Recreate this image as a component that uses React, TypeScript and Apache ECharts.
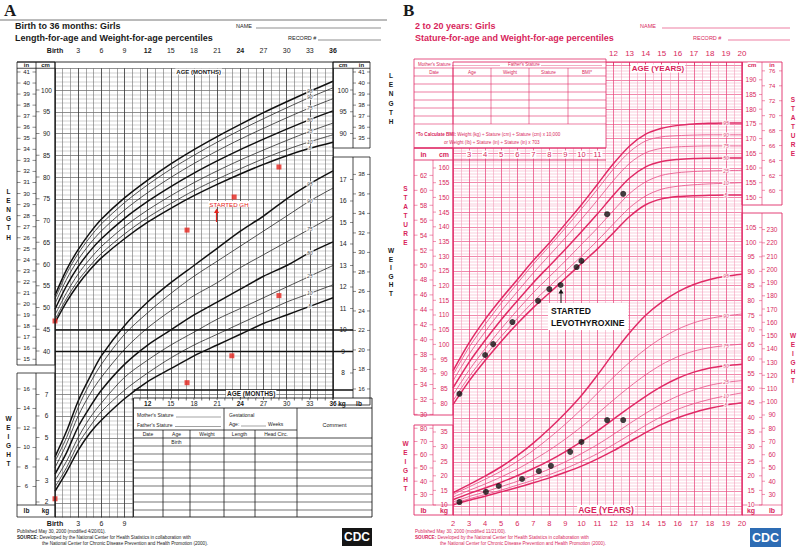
import React, { useEffect, useRef } from "react";
import * as echarts from "echarts";

const SANS = "'Liberation Sans', Arial, Helvetica, sans-serif";
const SERIF = "'Liberation Serif', 'Times New Roman', serif";
const INK = "#1a1a1a";
const RED = "#e5231b";
const PINK = "#e02a66";
const PINK_THIN = "#e8548a";
const PINK_TXT = "#d81f5c";
const PINK_MAJ = "#e9487f";
const PINK_MIN = "#f396b6";

// ---------- Panel A : birth to 36 months (girls) ----------
const monthsA = [0, 1.5, 3, 4.5, 6, 9, 12, 15, 18, 21, 24, 27, 30, 33, 36];
const lenA5 = [46.5, 51.3, 55.3, 58.6, 61.4, 65.8, 69.6, 72.8, 75.7, 78.3, 80.7, 82.9, 84.9, 86.6, 88.0];
const lenA10 = [47.2, 52.1, 56.2, 59.5, 62.4, 66.9, 70.7, 73.9, 76.9, 79.5, 81.9, 84.2, 86.3, 88.1, 89.7];
const lenA25 = [48.3, 53.4, 57.7, 61.1, 64.0, 68.6, 72.4, 75.7, 78.7, 81.4, 83.9, 86.2, 88.4, 90.5, 92.4];
const lenA50 = [49.6, 55.0, 59.4, 62.9, 65.8, 70.5, 74.4, 77.8, 80.9, 83.7, 86.3, 88.7, 91.0, 93.2, 95.2];
const lenA75 = [50.9, 56.5, 61.0, 64.6, 67.6, 72.4, 76.4, 79.9, 83.1, 86.0, 88.7, 91.2, 93.6, 95.9, 98.0];
const lenA90 = [52.0, 57.8, 62.4, 66.1, 69.2, 74.1, 78.2, 81.8, 85.0, 88.0, 90.8, 93.4, 95.9, 98.3, 100.5];
const lenA95 = [52.8, 58.7, 63.3, 67.1, 70.3, 75.2, 79.3, 83.0, 86.3, 89.3, 92.1, 94.8, 97.3, 99.7, 102.0];

const wtA5 = [2.5, 3.4, 4.4, 5.2, 5.8, 6.8, 7.6, 8.2, 8.8, 9.3, 9.8, 10.3, 10.7, 11.1, 11.5];
const wtA10 = [2.7, 3.6, 4.7, 5.5, 6.2, 7.2, 8.0, 8.7, 9.3, 9.8, 10.3, 10.8, 11.3, 11.7, 12.1];
const wtA25 = [3.0, 3.9, 5.0, 5.9, 6.6, 7.8, 8.6, 9.3, 9.9, 10.5, 11.0, 11.5, 12.0, 12.5, 13.0];
const wtA50 = [3.3, 4.3, 5.5, 6.4, 7.2, 8.4, 9.3, 10.0, 10.7, 11.3, 11.9, 12.5, 13.0, 13.6, 14.1];
const wtA75 = [3.6, 4.7, 6.0, 7.0, 7.8, 9.1, 10.1, 10.9, 11.6, 12.2, 12.9, 13.5, 14.1, 14.7, 15.3];
const wtA90 = [3.9, 5.0, 6.4, 7.5, 8.4, 9.8, 10.8, 11.7, 12.5, 13.2, 13.9, 14.6, 15.3, 16.0, 16.6];
const wtA95 = [4.1, 5.3, 6.7, 7.8, 8.8, 10.2, 11.3, 12.2, 13.0, 13.8, 14.6, 15.3, 16.1, 16.8, 17.4];

const pctNames = ["5", "10", "25", "50", "75", "90", "95"];

// patient A (red marks)
const ptLenAgeA = [0, 17.1, 23.2, 29.0];
const ptLenA = [46.9, 67.8, 75.4, 82.3];
const ptWtAgeA = [0, 17.1, 22.9, 29.0];
const ptWtA = [2.15, 7.55, 8.8, 11.6];

// tick labels A
const monthTicksTopA = [0, 3, 6, 9, 12, 15, 18, 21, 24, 27, 30, 33, 36];
const monthTicksBottomA = [0, 3, 6, 9];
const monthTicksRowA = [12, 15, 18, 21, 24, 27, 30, 33, 36];
const inLeftA = [15, 16, 17, 18, 19, 20, 21, 22, 23, 24, 25, 26, 27, 28, 29, 30, 31, 32, 33, 34, 35, 36, 37, 38, 39, 40, 41];
const cmLeftA = [40, 45, 50, 55, 60, 65, 70, 75, 80, 85, 90, 95, 100];
const kgLeftA = [2, 3, 4, 5, 6, 7];
const lbLeftA = [6, 8, 10, 12, 14, 16];
const cmRightA = [90, 95, 100];
const inRightA = [35, 36, 37, 38, 39, 40, 41];
const kgRightA = [8, 9, 10, 11, 12, 13, 14, 15, 16, 17];
const lbRightA = [16, 18, 20, 22, 24, 26, 28, 30, 32, 34, 36, 38];
const heavyKgA = [9, 10];

// ---------- Panel B : 2 to 20 years (girls) ----------
const agesB = [2, 3, 4, 5, 6, 7, 8, 9, 10, 11, 12, 13, 14, 15, 16, 17, 18, 19, 20];
const statB5 = [79.5, 87.5, 94.5, 101.0, 107.0, 112.5, 117.5, 122.5, 127.5, 132.5, 138.0, 143.5, 147.5, 149.5, 150.3, 150.6, 150.7, 150.8, 150.8];
const statB10 = [80.8, 89.0, 96.0, 102.7, 108.8, 114.5, 119.7, 124.8, 130.0, 135.3, 141.0, 146.5, 150.5, 152.8, 153.8, 154.3, 154.6, 154.8, 155.0];
const statB25 = [82.8, 91.2, 98.5, 105.3, 111.6, 117.6, 123.0, 128.4, 134.0, 139.6, 145.6, 151.3, 155.3, 157.5, 158.4, 158.8, 159.0, 159.1, 159.2];
const statB50 = [85.2, 93.9, 101.4, 108.4, 114.8, 121.0, 126.7, 132.4, 138.3, 144.4, 150.8, 156.6, 160.4, 162.2, 162.9, 163.2, 163.3, 163.4, 163.4];
const statB75 = [87.6, 96.6, 104.3, 111.4, 117.9, 124.3, 130.3, 136.3, 142.6, 149.1, 155.8, 161.6, 165.2, 166.7, 167.2, 167.4, 167.5, 167.5, 167.5];
const statB90 = [89.7, 99.0, 106.8, 114.0, 120.7, 127.3, 133.4, 139.6, 146.1, 152.8, 159.7, 165.5, 169.2, 170.6, 171.0, 171.2, 171.3, 171.3, 171.3];
const statB95 = [91.0, 100.5, 108.5, 115.5, 122.0, 128.5, 134.5, 141.0, 147.5, 154.5, 161.5, 167.5, 171.5, 173.5, 174.5, 175.0, 175.2, 175.3, 175.3];

const wtB5 = [10.0, 11.6, 13.0, 14.5, 16.0, 17.6, 19.3, 21.2, 23.3, 25.8, 28.6, 31.7, 34.8, 37.6, 39.9, 41.7, 43.1, 44.2, 45.0];
const wtB10 = [10.4, 12.1, 13.6, 15.1, 16.8, 18.5, 20.4, 22.5, 24.9, 27.6, 30.7, 34.0, 37.3, 40.3, 42.8, 44.7, 46.2, 47.4, 48.4];
const wtB25 = [11.0, 12.9, 14.5, 16.3, 18.1, 20.1, 22.3, 24.8, 27.6, 30.7, 34.2, 37.9, 41.4, 44.6, 47.3, 49.4, 51.0, 52.0, 52.6];
const wtB50 = [11.8, 13.9, 15.8, 17.8, 20.0, 22.5, 25.2, 28.3, 31.7, 35.4, 39.4, 43.4, 47.2, 50.6, 53.4, 55.5, 56.9, 57.7, 58.2];
const wtB75 = [12.7, 15.0, 17.2, 19.6, 22.3, 25.4, 28.8, 32.6, 36.8, 41.3, 46.0, 50.5, 54.6, 58.1, 60.8, 62.7, 63.9, 64.6, 65.1];
const wtB90 = [13.6, 16.2, 18.8, 21.6, 24.9, 28.7, 33.0, 37.7, 42.8, 48.3, 53.8, 58.9, 63.4, 67.2, 70.2, 72.4, 73.9, 74.8, 75.4];
const wtB95 = [14.2, 17.0, 19.9, 23.1, 26.9, 31.2, 36.1, 41.5, 47.5, 54.5, 62.0, 69.0, 75.0, 79.5, 83.0, 85.5, 87.2, 88.3, 89.0];

// patient B (black dots)
const ptStatAgeB = [2.4, 4.0, 4.5, 5.7, 7.3, 8.0, 8.7, 9.7, 10.0, 11.6, 12.6];
const ptStatB = [83.2, 96.4, 100.1, 107.6, 114.8, 118.8, 120.2, 126.3, 128.4, 144.3, 151.2];
const ptWtAgeB = [2.4, 4.05, 4.85, 6.3, 7.35, 8.1, 9.3, 10.0, 11.6, 12.6];
const ptWtB = [11.0, 14.5, 16.5, 18.9, 21.6, 23.4, 28.2, 31.6, 39.1, 39.1];

// tick labels B
const yearsTopB = [12, 13, 14, 15, 16, 17, 18, 19, 20];
const yearsRowB = [3, 4, 5, 6, 7, 8, 9, 10, 11];
const yearsBottomB = [2, 3, 4, 5, 6, 7, 8, 9, 10, 11, 12, 13, 14, 15, 16, 17, 18, 19, 20];
const cmLeftB = [80, 85, 90, 95, 100, 105, 110, 115, 120, 125, 130, 135, 140, 145, 150, 155, 160];
const inLeftB = [30, 32, 34, 36, 38, 40, 42, 44, 46, 48, 50, 52, 54, 56, 58, 60, 62];
const kgLeftB = [10, 15, 20, 25, 30, 35];
const lbLeftB = [30, 40, 50, 60, 70, 80];
const cmRightB = [150, 155, 160, 165, 170, 175, 180, 185, 190];
const inRightB = [60, 62, 64, 66, 68, 70, 72, 74, 76];
const kgRightB = [10, 15, 20, 25, 30, 35, 40, 45, 50, 55, 60, 65, 70, 75, 80, 85, 90, 95, 100, 105];
const lbRightB = [30, 40, 50, 60, 70, 80, 90, 100, 110, 120, 130, 140, 150, 160, 170, 180, 190, 200, 210, 220, 230];

const IN = 2.54;
const LB = 0.45359;

const lenASets = [lenA5, lenA10, lenA25, lenA50, lenA75, lenA90, lenA95];
const wtASets = [wtA5, wtA10, wtA25, wtA50, wtA75, wtA90, wtA95];
const statBSets = [statB5, statB10, statB25, statB50, statB75, statB90, statB95];
const wtBSets = [wtB5, wtB10, wtB25, wtB50, wtB75, wtB90, wtB95];
const isThick = (i: number) => i === 0 || i === 3 || i === 6;

function curve(xs: number[], ys: number[], xi: number, yi: number, color: string, width: number) {
  return {
    type: "line", xAxisIndex: xi, yAxisIndex: yi, silent: true,
    data: xs.map((x, j) => [x, ys[j]]),
    showSymbol: false, symbol: "none", smooth: 0.3,
    lineStyle: { color, width }, z: 3,
  };
}
function curveLabels(xs: number[], sets: number[][], idx: number, xi: number, yi: number, color: string) {
  return {
    type: "scatter", xAxisIndex: xi, yAxisIndex: yi, silent: true,
    symbolSize: 1, itemStyle: { color: "rgba(0,0,0,0)" },
    data: sets.map((s, i) => ({ name: pctNames[i], value: [xs[idx], s[idx]] })),
    label: {
      show: true, position: "inside", formatter: "{b}", fontSize: 5, fontStyle: "italic",
      fontFamily: SANS, color, backgroundColor: "#fff", padding: [0, 1],
    },
    z: 4,
  };
}

function buildOption() {
  const series: any[] = [];
  lenASets.forEach((s, i) => series.push(curve(monthsA, s, 0, 0, isThick(i) ? "#111" : "#333", isThick(i) ? 1.5 : 0.85)));
  wtASets.forEach((s, i) => series.push(curve(monthsA, s, 0, 1, isThick(i) ? "#111" : "#333", isThick(i) ? 1.5 : 0.85)));
  statBSets.forEach((s, i) => series.push(curve(agesB, s, 1, 2, isThick(i) ? PINK : PINK_THIN, isThick(i) ? 1.5 : 0.85)));
  wtBSets.forEach((s, i) => series.push(curve(agesB, s, 1, 3, isThick(i) ? PINK : PINK_THIN, isThick(i) ? 1.5 : 0.85)));
  series.push(curveLabels(monthsA, lenASets, 13, 0, 0, "#222"));
  series.push(curveLabels(monthsA, wtASets, 13, 0, 1, "#222"));
  series.push(curveLabels(agesB, statBSets, 17, 1, 2, PINK_TXT));
  series.push(curveLabels(agesB, wtBSets, 17, 1, 3, PINK_TXT));
  series.push({
    type: "scatter", xAxisIndex: 0, yAxisIndex: 0, silent: true, symbol: "rect", symbolSize: 5,
    itemStyle: { color: RED }, data: ptLenAgeA.map((a, i) => [a, ptLenA[i]]), z: 6,
  });
  series.push({
    type: "scatter", xAxisIndex: 0, yAxisIndex: 1, silent: true, symbol: "rect", symbolSize: 5,
    itemStyle: { color: RED }, data: ptWtAgeA.map((a, i) => [a, ptWtA[i]]), z: 6,
  });
  series.push({
    type: "scatter", xAxisIndex: 1, yAxisIndex: 2, silent: true, symbol: "circle", symbolSize: 6,
    itemStyle: { color: "#111" }, data: ptStatAgeB.map((a, i) => [a, ptStatB[i]]), z: 6,
  });
  series.push({
    type: "scatter", xAxisIndex: 1, yAxisIndex: 3, silent: true, symbol: "circle", symbolSize: 6,
    itemStyle: { color: "#111" }, data: ptWtAgeB.map((a, i) => [a, ptWtB[i]]), z: 6,
  });

  return {
    animation: false,
    backgroundColor: "#fff",
    grid: [
      { left: 55, top: 68.25, width: 278, height: 456.75 },
      { left: 453, top: 62, width: 289, height: 458.8 },
    ],
    xAxis: [
      {
        gridIndex: 0, type: "value", min: 0, max: 36, interval: 3, position: "top",
        axisLine: { show: true, lineStyle: { color: INK, width: 0.8 } },
        axisTick: { show: true, length: 6, lineStyle: { color: INK, width: 0.7 } },
        minorTick: { show: true, splitNumber: 3, length: 3, lineStyle: { color: INK, width: 0.6 } },
        axisLabel: { show: false },
        splitLine: { show: true, lineStyle: { color: "#3c3c3c", width: 0.85 } },
        minorSplitLine: { show: true, lineStyle: { color: "#6e6e6e", width: 0.6 } },
      },
      {
        gridIndex: 1, type: "value", min: 2, max: 20, interval: 1, position: "top",
        axisLine: { show: false },
        axisTick: { show: true, inside: true, length: 4, lineStyle: { color: PINK, width: 0.7 } },
        minorTick: { show: false, splitNumber: 2 },
        axisLabel: { show: false },
        splitLine: { show: true, lineStyle: { color: PINK_MAJ, width: 0.75 } },
        minorSplitLine: { show: true, lineStyle: { color: PINK_MIN, width: 0.55 } },
      },
    ],
    yAxis: [
      {
        gridIndex: 0, type: "value", min: 0, max: 105, interval: 5,
        axisLine: { show: false }, axisTick: { show: false }, axisLabel: { show: false },
        minorTick: { show: false, splitNumber: 5 },
        splitLine: { show: true, lineStyle: { color: "#555", width: 0.65 } },
        minorSplitLine: { show: true, lineStyle: { color: "#989898", width: 0.45 } },
      },
      { gridIndex: 0, type: "value", min: 0.9302, max: 22.174, show: false },
      {
        gridIndex: 1, type: "value", min: 40, max: 196.054, interval: 5,
        axisLine: { show: false }, axisTick: { show: false }, axisLabel: { show: false },
        minorTick: { show: false, splitNumber: 5 },
        splitLine: { show: true, lineStyle: { color: PINK_MAJ, width: 0.65 } },
        minorSplitLine: { show: true, lineStyle: { color: PINK_MIN, width: 0.45 } },
      },
      { gridIndex: 1, type: "value", min: 4.589, max: 161.712, show: false },
    ],
    series,
  };
}

const T = (x: number, y: number, text: string, o: any = {}) => ({
  type: "text", z: o.z ?? 60, x, y,
  style: {
    text, fill: o.fill ?? INK, fontSize: o.size ?? 6,
    fontWeight: o.bold ? "bold" : "normal", fontStyle: o.italic ? "italic" : "normal",
    fontFamily: o.family ?? SANS,
    align: o.align ?? "left", verticalAlign: o.va ?? "middle",
    textAlign: o.align ?? "left", textVerticalAlign: o.va ?? "middle",
    lineHeight: o.lh, backgroundColor: o.bg, padding: o.pad, rich: o.rich,
  },
});
const R = (x: number, y: number, w: number, h: number, o: any = {}) => ({
  type: "rect", z: o.z ?? 55, shape: { x, y, width: w, height: h },
  style: { fill: o.fill ?? "none", stroke: o.stroke ?? "none", lineWidth: o.lw ?? 0.8 },
});
const L = (x1: number, y1: number, x2: number, y2: number, stroke = INK, lw = 0.8, z = 58) => ({
  type: "line", z, shape: { x1, y1, x2, y2 }, style: { stroke, lineWidth: lw },
});
const arrowUp = (x: number, yTip: number, yTail: number, color: string, lw: number) => [
  L(x, yTip + 3, x, yTail, color, lw, 62),
  { type: "polygon", z: 62, shape: { points: [[x, yTip], [x - 2.5, yTip + 4.5], [x + 2.5, yTip + 4.5]] }, style: { fill: color } },
];

function buildGraphics(chart: any) {
  const g: any[] = [];
  const xA = (v: number) => chart.convertToPixel({ xAxisIndex: 0 }, v) as number;
  const yLen = (v: number) => chart.convertToPixel({ yAxisIndex: 0 }, v) as number;
  const yWtA = (v: number) => chart.convertToPixel({ yAxisIndex: 1 }, v) as number;
  const xB = (v: number) => chart.convertToPixel({ xAxisIndex: 1 }, v) as number;
  const yStat = (v: number) => chart.convertToPixel({ yAxisIndex: 2 }, v) as number;
  const yWtB = (v: number) => chart.convertToPixel({ yAxisIndex: 3 }, v) as number;

  // ======================= PANEL A =======================
  g.push(R(133.5, 398, 239, 121, { fill: "#fff", z: 40 }));
  g.push(R(54, 517.5, 282, 10, { fill: "#fff", z: 40 }));

  g.push(T(4, 10, "A", { size: 17, bold: true, family: SERIF }));
  g.push(L(0, 20, 387, 20, "#777", 1));
  g.push(T(15, 26, "Birth to 36 months: Girls", { size: 9, bold: true }));
  g.push(T(15, 38, "Length-for-age and Weight-for-age percentiles", { size: 9, bold: true }));
  g.push(T(236, 26, "NAME", { size: 5.5 }));
  g.push(L(256, 28, 381, 28, "#444", 0.6));
  g.push(T(288, 38, "RECORD #", { size: 5.5 }));
  g.push(L(318, 40, 381, 40, "#444", 0.6));

  monthTicksTopA.forEach((m) =>
    g.push(T(xA(m), 50, m === 0 ? "Birth" : String(m), { size: 7, bold: m % 12 === 0, align: "center" }))
  );
  monthTicksBottomA.forEach((m) =>
    g.push(T(xA(m), 523, m === 0 ? "Birth" : String(m), { size: 7, bold: m % 12 === 0, align: "center" }))
  );

  // heavier horizontal rules in the lower chart
  heavyKgA.forEach((v) => g.push(L(55, yWtA(v), 353, yWtA(v), "#111", 1.3, 30)));
  g.push(L(133.5, 390, 353, 390, "#111", 1.3, 30));

  // frames
  g.push(L(17, 62, 370, 62, INK, 0.9));
  g.push(R(17, 62, 38, 303, { stroke: INK }));
  g.push(L(36, 62, 36, 365));
  g.push(L(17, 68.25, 55, 68.25));
  g.push(R(17, 373, 38, 144, { stroke: INK }));
  g.push(L(36, 373, 36, 505));
  g.push(L(17, 505, 55, 505));
  g.push(R(333, 62, 37, 86, { stroke: INK }));
  g.push(L(353, 68.25, 353, 148));
  g.push(L(333, 68.25, 370, 68.25));
  g.push(R(333, 157, 37, 248, { stroke: INK }));
  g.push(L(353, 157, 353, 398));
  g.push(L(55, 62, 55, 517, INK, 0.9));
  g.push(L(333, 62, 333, 398, INK, 0.9));
  g.push(L(55, 517, 133.5, 517, INK, 0.9));

  g.push(T(26.5, 65.2, "in", { size: 6, bold: true, align: "center" }));
  g.push(T(45.5, 65.2, "cm", { size: 6, bold: true, align: "center" }));
  g.push(T(343, 65.2, "cm", { size: 6, bold: true, align: "center" }));
  g.push(T(361.5, 65.2, "in", { size: 6, bold: true, align: "center" }));
  g.push(T(xA(18.6), 71.5, "AGE (MONTHS)", { size: 6, bold: true, align: "center", bg: "#fff", pad: [0, 1] }));

  inLeftA.forEach((v) => {
    const y = yLen(v * IN);
    g.push(T(26.5, y, String(v), { size: 6, align: "center" }));
    g.push(L(17, y, 20.5, y, INK, 0.5));
    g.push(L(32.5, y, 36, y, INK, 0.5));
  });
  cmLeftA.forEach((v) => {
    const y = yLen(v);
    g.push(T(46.5, y, String(v), { size: 6.5, align: "center" }));
    g.push(L(36, y, 39.5, y, INK, 0.5));
  });
  kgLeftA.forEach((v) => {
    const y = yWtA(v);
    g.push(T(46.5, y, String(v), { size: 6.5, align: "center" }));
    g.push(L(36, y, 39.5, y, INK, 0.5));
  });
  lbLeftA.forEach((v) => {
    const y = yWtA(v * LB);
    g.push(T(26.5, y, String(v), { size: 6, align: "center" }));
    g.push(L(17, y, 20.5, y, INK, 0.5));
    g.push(L(32.5, y, 36, y, INK, 0.5));
  });
  g.push(T(26.5, 510.5, "lb", { size: 6.5, bold: true, align: "center" }));
  g.push(T(45.5, 510.5, "kg", { size: 6.5, bold: true, align: "center" }));

  cmRightA.forEach((v) => {
    const y = yLen(v);
    g.push(T(343, y, String(v), { size: 6.5, align: "center" }));
    g.push(L(350, y, 353, y, INK, 0.5));
  });
  inRightA.forEach((v) => {
    const y = yLen(v * IN);
    g.push(T(361.5, y, String(v), { size: 6, align: "center" }));
    g.push(L(353, y, 356, y, INK, 0.5));
    g.push(L(367, y, 370, y, INK, 0.5));
  });
  kgRightA.forEach((v) => {
    const y = yWtA(v);
    g.push(T(343, y, String(v), { size: 6.5, align: "center" }));
    g.push(L(350, y, 353, y, INK, 0.5));
  });
  lbRightA.forEach((v) => {
    const y = yWtA(v * LB);
    g.push(T(361.5, y, String(v), { size: 6, align: "center" }));
    g.push(L(353, y, 356, y, INK, 0.5));
    g.push(L(367, y, 370, y, INK, 0.5));
  });

  // age row under grid + table
  g.push(T(xA(25.4), 393.5, "AGE (MONTHS)", { size: 6.5, bold: true, align: "center", bg: "#fff", pad: [0, 1] }));
  g.push(L(133.5, 398, 372, 398, INK, 0.9));
  g.push(L(133.5, 408, 372, 408, INK, 0.9));
  g.push(L(133.5, 398, 133.5, 517, INK, 0.9));
  g.push(L(372, 398, 372, 517, INK, 0.9));
  g.push(L(133.5, 517, 372, 517, INK, 0.9));
  for (let m = 10; m <= 36; m++) {
    g.push(L(xA(m), 398, xA(m), m % 3 === 0 ? 402 : 400.5, INK, 0.6));
  }
  monthTicksRowA.forEach((m) =>
    g.push(T(xA(m), 403.5, String(m), { size: 6.5, bold: m % 12 === 0, align: "center", bg: "#fff", pad: [0, 1] }))
  );
  g.push(T(342, 403, "kg", { size: 6.5, bold: true, align: "center" }));
  g.push(T(359, 403, "lb", { size: 6.5, bold: true, align: "center" }));

  g.push(L(224, 408, 224, 517));
  g.push(L(297, 408, 297, 517));
  g.push(T(137, 415, "Mother's Stature", { size: 5 }));
  g.push(L(176, 417, 221, 417, "#444", 0.5));
  g.push(T(137, 424.5, "Father's Stature", { size: 5 }));
  g.push(L(175, 426.5, 221, 426.5, "#444", 0.5));
  g.push(T(229, 414.5, "Gestational", { size: 5 }));
  g.push(T(229, 424, "Age:", { size: 5 }));
  g.push(L(241, 426, 266, 426, "#444", 0.5));
  g.push(T(268, 424, "Weeks", { size: 5 }));
  g.push(T(334.5, 424.5, "Comment", { size: 5.5, align: "center" }));
  g.push(L(133.5, 430, 297, 430));
  g.push(L(133.5, 438, 372, 438));
  g.push(L(163, 430, 163, 517));
  g.push(L(190, 430, 190, 517));
  g.push(L(255, 430, 255, 517));
  g.push(T(148, 434.2, "Date", { size: 5, align: "center" }));
  g.push(T(176.5, 434.2, "Age", { size: 5, align: "center" }));
  g.push(T(207, 434.2, "Weight", { size: 5, align: "center" }));
  g.push(T(239.5, 434.2, "Length", { size: 5, align: "center" }));
  g.push(T(276, 434.2, "Head Circ.", { size: 5, align: "center" }));
  g.push(T(176.5, 442.3, "Birth", { size: 5, align: "center" }));
  [446, 454, 462, 470, 478, 486, 494, 502, 510].forEach((y) => g.push(L(133.5, y, 372, y, INK, 0.6)));

  // annotations A
  g.push(T(229, 204, "STARTED GH", { size: 6.2, fill: RED, align: "center", bg: "#fff", pad: [0, 1] }));
  arrowUp(216.5, 208.5, 222, RED, 1.2).forEach((e) => g.push(e));

  // vertical letters A
  g.push(T(8.5, 214, "L\nE\nN\nG\nT\nH", { size: 6.5, bold: true, align: "center", lh: 9.2 }));
  g.push(T(391, 98.5, "L\nE\nN\nG\nT\nH", { size: 6.5, bold: true, align: "center", lh: 9.2 }));
  g.push(T(8.5, 441, "W\nE\nI\nG\nH\nT", { size: 6.5, bold: true, align: "center", lh: 9 }));
  g.push(T(391, 272, "W\nE\nI\nG\nH\nT", { size: 6.5, bold: true, align: "center", lh: 8.5 }));

  // footer A
  g.push(T(17, 531.5, "Published May 30, 2000 (modified 4/20/01).", { size: 4.6 }));
  g.push(T(17, 537.5, "{b|SOURCE:} Developed by the National Center for Health Statistics in collaboration with", { size: 4.6, rich: { b: { fontWeight: "bold", fontSize: 4.6, fontFamily: SANS } } }));
  g.push(T(42, 543.5, "the National Center for Chronic Disease Prevention and Health Promotion (2000).", { size: 4.6 }));
  g.push(R(342, 528, 30, 18, { fill: "#151515", z: 60 }));
  g.push(T(357, 536.5, "CDC", { size: 12, bold: true, fill: "#fff", align: "center", z: 61 }));

  // ======================= PANEL B =======================
  g.push(R(414, 59, 192, 89, { fill: "#fff", stroke: PINK, z: 40 }));
  g.push(R(452, 515.5, 292, 7, { fill: "#fff", z: 40 }));

  g.push(T(403, 10, "B", { size: 17, bold: true, family: SERIF }));
  g.push(T(415, 26, "2 to 20 years: Girls", { size: 9, bold: true, fill: PINK_TXT }));
  g.push(T(415, 38, "Stature-for-age and Weight-for-age percentiles", { size: 9, bold: true, fill: PINK_TXT }));
  g.push(T(640, 26, "NAME", { size: 5.5, fill: PINK_TXT }));
  g.push(L(662, 28, 790, 28, PINK, 0.6));
  g.push(T(693, 38, "RECORD #", { size: 5.5, fill: PINK_TXT }));
  g.push(L(728, 40, 790, 40, PINK, 0.6));

  yearsTopB.forEach((v) => g.push(T(xB(v), 53.5, String(v), { size: 8, fill: PINK_TXT, align: "center" })));
  yearsBottomB.forEach((v) => g.push(T(xB(v), 523.5, String(v), { size: 7.5, fill: PINK_TXT, align: "center" })));

  // BMI table
  g.push(T(418, 64, "Mother's Stature", { size: 4.5, fill: PINK_TXT, z: 61 }));
  g.push(L(452, 65.5, 500, 65.5, PINK, 0.4, 61));
  g.push(T(508, 64, "Father's Stature", { size: 4.5, fill: PINK_TXT, z: 61 }));
  g.push(L(541, 65.5, 602, 65.5, PINK, 0.4, 61));
  [68, 76, 84, 92, 100, 108, 116, 124].forEach((y) => g.push(L(414, y, 606, y, PINK, 0.6, 61)));
  [453, 491, 529, 568].forEach((x) => g.push(L(x, 68, x, 124, PINK, 0.6, 61)));
  [["Date", 434], ["Age", 472], ["Weight", 510], ["Stature", 548.5], ["BMI*", 587]].forEach(([s, x]) =>
    g.push(T(x as number, 72.2, s as string, { size: 4.6, fill: PINK_TXT, align: "center", z: 61 }))
  );
  g.push(T(416, 134, "{b|*To Calculate BMI:} Weight (kg) ÷ Stature (cm) ÷ Stature (cm) x 10,000", {
    size: 4.6, fill: PINK_TXT, z: 61, rich: { b: { fontWeight: "bold", fontSize: 4.6, fontFamily: SANS, fill: PINK_TXT } },
  }));
  g.push(T(444, 142, "or Weight (lb) ÷ Stature (in) ÷ Stature (in) x 703", { size: 4.6, fill: PINK_TXT, z: 61 }));

  // ruler row y 148-160
  g.push(L(414, 148, 606, 148, PINK, 0.9));
  g.push(L(414, 160, 606, 160, PINK, 0.9));
  g.push(T(423.5, 154.3, "in", { size: 7, bold: true, fill: PINK_TXT, align: "center" }));
  g.push(T(444, 154.3, "cm", { size: 7, bold: true, fill: PINK_TXT, align: "center" }));
  yearsRowB.forEach((v) => g.push(T(xB(v), 154.5, String(v), { size: 7.5, fill: PINK_TXT, align: "center", bg: "#fff", pad: [0, 1] })));

  // boxes
  g.push(R(414, 148, 39, 267, { stroke: PINK, lw: 0.9 }));
  g.push(L(433, 160, 433, 415, PINK, 0.6));
  g.push(R(414, 425, 39, 90, { stroke: PINK, lw: 0.9 }));
  g.push(L(433, 425, 433, 505, PINK, 0.6));
  g.push(L(414, 505, 453, 505, PINK, 0.6));
  g.push(R(742, 62, 40, 143, { stroke: PINK, lw: 0.9 }));
  g.push(L(762, 62, 762, 205, PINK, 0.6));
  g.push(R(742, 213, 40, 302, { stroke: PINK, lw: 0.9 }));
  g.push(L(762, 213, 762, 505, PINK, 0.6));
  g.push(L(742, 505, 782, 505, PINK, 0.6));
  g.push(R(453, 62, 289, 453, { stroke: PINK, lw: 0.9, z: 45 }));

  g.push(T(752, 65.3, "cm", { size: 6, bold: true, fill: PINK_TXT, align: "center", bg: "#fff" }));
  g.push(T(772, 65.3, "in", { size: 6, bold: true, fill: PINK_TXT, align: "center" }));
  g.push(T(423.5, 510.5, "lb", { size: 7, bold: true, fill: PINK_TXT, align: "center" }));
  g.push(T(444, 510.5, "kg", { size: 7, bold: true, fill: PINK_TXT, align: "center" }));
  g.push(T(751, 510.5, "kg", { size: 7, bold: true, fill: PINK_TXT, align: "center", bg: "#fff" }));
  g.push(T(772, 510.5, "lb", { size: 7, bold: true, fill: PINK_TXT, align: "center" }));

  inLeftB.forEach((v) => {
    const y = yStat(v * IN);
    g.push(T(423.5, y, String(v), { size: 6.5, fill: PINK_TXT, align: "center" }));
    g.push(L(414, y, 417.5, y, PINK, 0.5));
    g.push(L(429.5, y, 433, y, PINK, 0.5));
  });
  cmLeftB.forEach((v) => {
    const y = yStat(v);
    g.push(T(444, y, String(v), { size: 6.5, fill: PINK_TXT, align: "center" }));
    g.push(L(433, y, 436, y, PINK, 0.5));
  });
  lbLeftB.forEach((v) => {
    const y = yWtB(v * LB);
    g.push(T(423.5, y, String(v), { size: 6.5, fill: PINK_TXT, align: "center" }));
    g.push(L(414, y, 417.5, y, PINK, 0.5));
    g.push(L(429.5, y, 433, y, PINK, 0.5));
  });
  kgLeftB.forEach((v) => {
    const y = yWtB(v);
    g.push(T(444, y, String(v), { size: 6.5, fill: PINK_TXT, align: "center" }));
    g.push(L(433, y, 436, y, PINK, 0.5));
  });
  cmRightB.forEach((v) => {
    const y = yStat(v);
    g.push(T(751, y, String(v), { size: 6.5, fill: PINK_TXT, align: "center", bg: "#fff" }));
    g.push(L(759, y, 762, y, PINK, 0.5));
  });
  inRightB.forEach((v) => {
    const y = yStat(v * IN);
    g.push(T(772, y + 0.6, String(v), { size: 6, fill: PINK_TXT, align: "center" }));
    g.push(L(762, y, 765, y, PINK, 0.5));
    g.push(L(779, y, 782, y, PINK, 0.5));
  });
  kgRightB.forEach((v) => {
    const y = yWtB(v);
    g.push(T(751, y, String(v), { size: 6.5, fill: PINK_TXT, align: "center", bg: "#fff" }));
    g.push(L(759, y, 762, y, PINK, 0.5));
  });
  lbRightB.forEach((v) => {
    const y = yWtB(v * LB);
    g.push(T(772, y, String(v), { size: 6.5, fill: PINK_TXT, align: "center" }));
    g.push(L(762, y, 765, y, PINK, 0.5));
  });

  g.push(T(658, 68.5, "AGE (YEARS)", { size: 8, bold: true, fill: PINK_TXT, align: "center", bg: "#fff", pad: [0, 1] }));
  g.push(T(606, 509.5, "AGE (YEARS)", { size: 8.5, bold: true, fill: PINK_TXT, align: "center", bg: "#fff", pad: [0, 1] }));

  g.push(T(405.5, 215, "S\nT\nA\nT\nU\nR\nE", { size: 6.5, bold: true, fill: PINK_TXT, align: "center", lh: 9 }));
  g.push(T(793, 126, "S\nT\nA\nT\nU\nR\nE", { size: 6.5, bold: true, fill: PINK_TXT, align: "center", lh: 9 }));
  g.push(T(405.5, 466, "W\nE\nI\nG\nH\nT", { size: 6.5, bold: true, fill: PINK_TXT, align: "center", lh: 9 }));
  g.push(T(793, 358, "W\nE\nI\nG\nH\nT", { size: 6.5, bold: true, fill: PINK_TXT, align: "center", lh: 9 }));

  // annotation B
  g.push(R(548, 303, 80, 27, { fill: "#fff", z: 58 }));
  g.push(T(551, 310.5, "STARTED", { size: 8.6, bold: true, fill: "#111", z: 61 }));
  g.push(T(551, 323, "LEVOTHYROXINE", { size: 8.6, bold: true, fill: "#111", z: 61 }));
  arrowUp(561, 289, 303, "#111", 1).forEach((e) => g.push(e));

  // footer B
  g.push(T(415, 531.5, "Published May 30, 2000 (modified 11/21/00).", { size: 4.6, fill: PINK_TXT }));
  g.push(T(415, 537.5, "{b|SOURCE:} Developed by the National Center for Health Statistics in collaboration with", {
    size: 4.6, fill: PINK_TXT, rich: { b: { fontWeight: "bold", fontSize: 4.6, fontFamily: SANS, fill: PINK_TXT } },
  }));
  g.push(T(440, 543.5, "the National Center for Chronic Disease Prevention and Health Promotion (2000).", { size: 4.6, fill: PINK_TXT }));
  g.push(R(750, 528, 31, 19, { fill: "#2d6cb4", z: 60 }));
  g.push(T(765.5, 537.5, "CDC", { size: 12.5, bold: true, fill: "#fff", align: "center", z: 61 }));

  return g;
}

export default function App() {
  const ref = useRef<HTMLDivElement>(null);
  useEffect(() => {
    if (!ref.current) return;
    const chart = echarts.init(ref.current, null, { renderer: "svg", width: 800, height: 549 });
    chart.setOption(buildOption() as any);
    chart.setOption({ graphic: { elements: buildGraphics(chart) } } as any);
    return () => chart.dispose();
  }, []);
  return (
    <div
      ref={ref}
      style={{ position: "fixed", left: 0, top: 0, width: 800, height: 549, background: "#fff" }}
    />
  );
}
